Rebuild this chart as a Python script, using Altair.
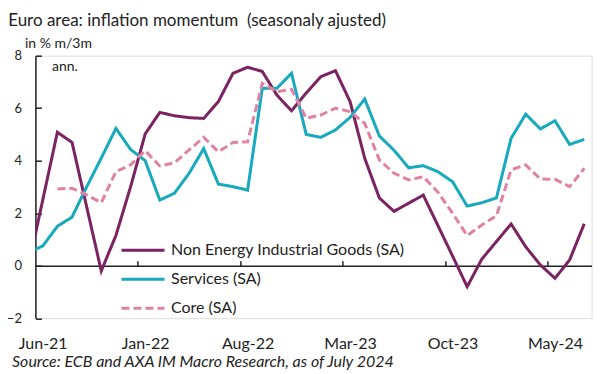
import altair as alt
import pandas as pd

# ---- data (monthly, May-21 .. Jul-24; May-21 only feeds the clipped lead-in) ----
months = list(pd.date_range("2021-05-01", periods=39, freq="MS").strftime("%b-%y"))

neig = [-0.1, 2.5, 5.08, 4.7, 2.25, -0.2, 1.15, 3.0,
        5.02, 5.84, 5.71, 5.64, 5.61, 6.25, 7.33, 7.56, 7.4, 6.5, 5.9, 6.58,
        7.2, 7.43, 6.25, 4.09, 2.58, 2.07, 2.38, 2.69, 1.53, 0.37, -0.8, 0.25,
        0.92, 1.59, 0.72, 0.03, -0.48, 0.22, 1.6]

services = [0.5, 0.75, 1.5, 1.85, 3.0, 4.1, 5.23, 4.43,
            4.0, 2.5, 2.76, 3.52, 4.46, 3.11, 3.01, 2.88, 6.76, 6.76, 7.33, 5.0,
            4.89, 5.17, 5.65, 6.35, 4.94, 4.4, 3.73, 3.81, 3.58, 3.2, 2.27, 2.4,
            2.58, 4.85, 5.77, 5.21, 5.52, 4.62, 4.81]

core = [None, None, 2.92, 2.95, 2.7, 2.4, 3.58, 3.84,
        4.38, 3.8, 3.92, 4.41, 4.89, 4.34, 4.69, 4.72, 6.95, 6.63, 6.72, 5.62,
        5.74, 6.0, 5.87, 5.42, 4.03, 3.52, 3.27, 3.39, 2.8, 2.0, 1.15, 1.55,
        1.9, 3.65, 3.84, 3.3, 3.29, 3.01, 3.71]

series_names = ["Non Energy Industrial Goods (SA)", "Services (SA)", "Core (SA)"]
series_colors = ["#7B2262", "#17A9BE", "#E083A3"]
series_dash = [[1, 0], [1, 0], [8, 4]]

xtick_labels = ["Jun-21", "Jan-22", "Aug-22", "Mar-23", "Oct-23", "May-24"]
yticks = [-2, 0, 2, 4, 6, 8]

# ---- long table ----
rows = []
for name, vals in zip(series_names, [neig, services, core]):
    for i, (m, v) in enumerate(zip(months, vals)):
        if v is not None:
            rows.append({"idx": i - 1, "month": m, "value": v, "series": name})
df = pd.DataFrame(rows)

FONT = "Lato"
TXT = "#222222"
W = 556.2
H = 262.5

label_idx = [months.index(l) - 1 for l in xtick_labels]
label_expr = "[" + ",".join("'%s'" % l for l in xtick_labels) + "][round(datum.value/7)]"
boundaries = [i - 0.5 for i in label_idx[1:]]

legend = alt.Legend(
    title=None, orient="none", legendX=84.6, legendY=180.3,
    symbolType="stroke", symbolSize=1849, symbolStrokeWidth=3,
    labelFontSize=16, labelFont=FONT, labelColor=TXT, labelOffset=5,
    labelLimit=500, clipHeight=28.3, rowPadding=0, padding=0,
)

xscale = alt.Scale(domain=[-0.5, 37.5], nice=False, zero=False)
yscale = alt.Scale(domain=[-2, 8], nice=False, zero=False)

lines = alt.Chart(df).mark_line(strokeWidth=3, clip=True).encode(
    x=alt.X("idx:Q", scale=xscale,
            axis=alt.Axis(orient="bottom", values=label_idx, labelExpr=label_expr,
                          domain=False, ticks=False, tickSize=0, grid=False,
                          labelFontSize=16, labelFont=FONT, labelColor=TXT,
                          labelPadding=17, labelFlush=False, labelOverlap=False,
                          title=None)),
    y=alt.Y("value:Q", scale=yscale,
            axis=alt.Axis(orient="left", values=yticks, domain=True,
                          domainColor=TXT, domainWidth=1.5, ticks=False, tickSize=0,
                          grid=False, labelFontSize=13, labelFont=FONT,
                          labelColor=TXT, labelPadding=14, title=None)),
    color=alt.Color("series:N", scale=alt.Scale(domain=series_names, range=series_colors),
                    legend=legend),
    strokeDash=alt.StrokeDash("series:N", scale=alt.Scale(domain=series_names, range=series_dash),
                              legend=legend),
    order=alt.Order("idx:Q"),
)

axes2 = alt.Chart(df).mark_line(strokeOpacity=0).encode(
    x=alt.X("idx:Q", scale=xscale,
            axis=alt.Axis(orient="top", offset=-H * 8 / 10, values=boundaries,
                          labels=False, domain=True, domainColor=TXT, domainWidth=1.5,
                          ticks=True, tickSize=5, tickColor=TXT, tickWidth=1.5,
                          grid=False, title=None)),
    y=alt.Y("value:Q", scale=yscale,
            axis=alt.Axis(orient="right", offset=-W, values=yticks, labels=False,
                          domain=False, ticks=True, tickSize=6, tickColor=TXT,
                          tickWidth=1.5, grid=False, title=None)),
    detail="series:N",
)

def txt(s, x, y, size, style="normal", color=TXT):
    return alt.Chart(pd.DataFrame({"t": [s]})).mark_text(
        align="left", baseline="alphabetic", font=FONT, fontSize=size,
        fontStyle=style, color=color,
    ).encode(text="t:N", x=alt.value(x), y=alt.value(y))

title = txt("Euro area: inflation momentum\u00a0 (seasonaly ajusted)", -27.2, -29.7, 17)
unit1 = txt("in % m/3m", -10.4, -7.7, 14)
unit2 = txt("ann.", 16.6, 15, 14)
source = txt("Source: ECB and AXA IM Macro Research, as of July 2024", -23.4, 311.5, 16, "italic")

chart = alt.layer(lines, axes2, title, unit1, unit2, source).properties(
    width=W, height=H,
    autosize=alt.AutoSizeParams(type="none"),
    padding={"left": 27.4, "top": 47.7, "right": 13, "bottom": 55},
).configure_view(stroke=None).configure(font=FONT, background="white")

chart.save("out.html", embed_options={"renderer": "svg", "actions": False})
